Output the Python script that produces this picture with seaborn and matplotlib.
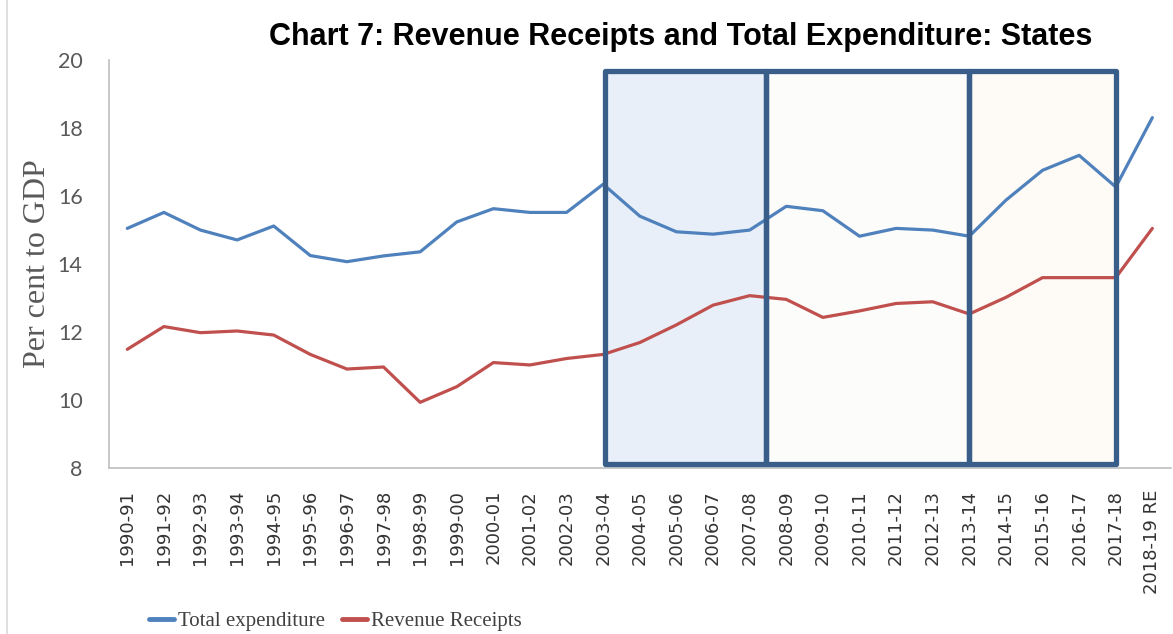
import matplotlib
matplotlib.use("Agg")
import matplotlib.pyplot as plt
from matplotlib.patches import Rectangle
from matplotlib.lines import Line2D
import pandas as pd
import seaborn as sns

# Data (per cent to GDP)
years = ["1990-91", "1991-92", "1992-93", "1993-94", "1994-95", "1995-96",
         "1996-97", "1997-98", "1998-99", "1999-00", "2000-01", "2001-02",
         "2002-03", "2003-04", "2004-05", "2005-06", "2006-07", "2007-08",
         "2008-09", "2009-10", "2010-11", "2011-12", "2012-13", "2013-14",
         "2014-15", "2015-16", "2016-17", "2017-18", "2018-19 RE"]
total_expenditure = [15.05, 15.52, 15.0, 14.71, 15.12, 14.25, 14.07, 14.24,
                     14.36, 15.24, 15.63, 15.52, 15.52, 16.35, 15.41, 14.95,
                     14.88, 15.0, 15.7, 15.57, 14.82, 15.05, 15.0, 14.82,
                     15.88, 16.76, 17.2, 16.27, 18.31]
revenue_receipts = [11.49, 12.16, 11.98, 12.03, 11.91, 11.34, 10.91, 10.97,
                    9.93, 10.39, 11.1, 11.03, 11.22, 11.34, 11.69, 12.21,
                    12.79, 13.07, 12.96, 12.43, 12.62, 12.84, 12.89, 12.53,
                    13.02, 13.6, 13.6, 13.6, 15.05]
series_names = ["Total expenditure", "Revenue Receipts"]
series_colors = ["#4F81BD", "#C0504D"]

# Long table for seaborn
df = pd.DataFrame({
    "year": years * 2,
    "value": total_expenditure + revenue_receipts,
    "series": [series_names[0]] * len(years) + [series_names[1]] * len(years),
})

sns.set_style("white")
plt.rcParams["font.family"] = ["DejaVu Sans"]

fig = plt.figure(figsize=(11.73, 6.34), dpi=100)
ax = fig.add_axes([0.0929, 0.262, 0.9051, 0.643])

# shaded period boxes (fill behind the lines, border on top)
boxes = [(13.05, 17.45, "#E8EFF8"), (17.45, 23.0, "#FCFCFA"), (23.0, 27.0, "#FEFBF6")]
edge = "#3A5E8A"
for x0, x1, fc in boxes:
    ax.add_patch(Rectangle((x0, 8.1), x1 - x0, 19.68 - 8.1, facecolor=fc,
                           edgecolor="none", zorder=0.5))
    ax.add_patch(Rectangle((x0, 8.1), x1 - x0, 19.68 - 8.1, facecolor="none",
                           edgecolor=edge, linewidth=3.8, joinstyle="round",
                           zorder=4))

sns.lineplot(data=df, x="year", y="value", hue="series", palette=series_colors,
             linewidth=2.3, sort=False, ax=ax, zorder=3, legend=False)

ax.set_xlim(-0.5, len(years) - 0.5)
ax.set_ylim(8, 20)
ax.set_yticks(range(8, 21, 2))
ax.set_xticks(range(len(years)))
ax.set_xticklabels(years, rotation=90, fontsize=13, color="#333333")
ax.tick_params(axis="y", labelsize=15.5, colors="#595959", length=0, pad=19)
ax.tick_params(axis="x", length=0, pad=16)
for lbl in ax.get_yticklabels():
    lbl.set_family("Lato")
ax.set_xlabel("")
ax.set_ylabel("Per cent to GDP", fontsize=23, family="Liberation Serif",
              color="#595959", labelpad=4)

for side in ["top", "right"]:
    ax.spines[side].set_visible(False)
for side in ["left", "bottom"]:
    ax.spines[side].set_color("#BFBFBF")
    ax.spines[side].set_linewidth(1.2)

fig.text(0.58, 0.942, "Chart 7: Revenue Receipts and Total Expenditure: States",
         ha="center", va="center", fontsize=22, fontweight="bold",
         family="Liberation Sans", color="black")

handles = [Line2D([0], [0], color=c, linewidth=3.5) for c in series_colors]
fig.legend(handles, series_names, loc="center", bbox_to_anchor=(0.286, 0.02),
           ncol=2, frameon=False, handlelength=1.2, handletextpad=0.2,
           columnspacing=0.8, prop={"family": "Liberation Serif", "size": 15},
           labelcolor="#404040")

# chart-area border on the left
fig.add_artist(Line2D([0.006, 0.006], [0, 1], transform=fig.transFigure,
                      color="#D9D9D9", linewidth=1.2))

fig.savefig("out.png", dpi=100)
